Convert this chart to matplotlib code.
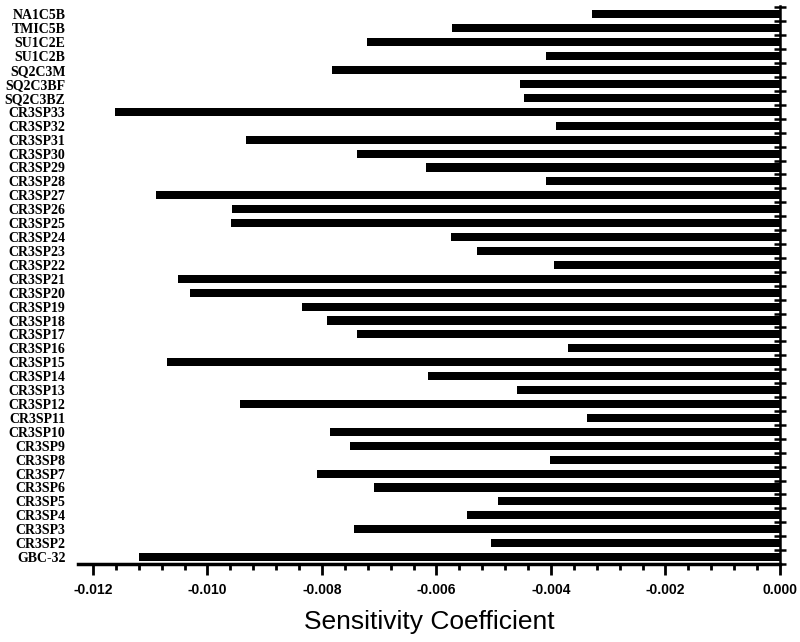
import matplotlib
matplotlib.use("Agg")
import matplotlib.pyplot as plt
from matplotlib.ticker import MultipleLocator, FormatStrFormatter

# categories from top to bottom
labels = ["NA1C5B", "TMIC5B", "SU1C2E", "SU1C2B", "SQ2C3M", "SQ2C3BF", "SQ2C3BZ",
          "CR3SP33", "CR3SP32", "CR3SP31", "CR3SP30", "CR3SP29", "CR3SP28",
          "CR3SP27", "CR3SP26", "CR3SP25", "CR3SP24", "CR3SP23", "CR3SP22",
          "CR3SP21", "CR3SP20", "CR3SP19", "CR3SP18", "CR3SP17", "CR3SP16",
          "CR3SP15", "CR3SP14", "CR3SP13", "CR3SP12", "CR3SP11", "CR3SP10",
          "CR3SP9", "CR3SP8", "CR3SP7", "CR3SP6", "CR3SP5", "CR3SP4",
          "CR3SP3", "CR3SP2", "GBC-32"]

sensitivity = [-0.00329, -0.00573, -0.00722, -0.00409, -0.00783, -0.00454, -0.00447,
               -0.01162, -0.00392, -0.00932, -0.00738, -0.00618, -0.00408,
               -0.01090, -0.00957, -0.00959, -0.00575, -0.00529, -0.00395,
               -0.01051, -0.01031, -0.00834, -0.00792, -0.00738, -0.00370,
               -0.01071, -0.00615, -0.00459, -0.00943, -0.00337, -0.00786,
               -0.00751, -0.00401, -0.00809, -0.00709, -0.00492, -0.00546,
               -0.00744, -0.00504, -0.01120]

fig = plt.figure(figsize=(8, 6.42), dpi=100)
ax = fig.add_axes([0.0975, 0.1215, 0.8775, 0.869])

pos = list(range(len(labels)))
ax.barh(pos, sensitivity, height=0.58, color="black")

ax.set_xlim(-0.01226, 0.0)
ax.set_ylim(len(labels) - 0.5, -0.6)

ax.spines["top"].set_visible(False)
ax.spines["left"].set_visible(False)
ax.spines["bottom"].set_linewidth(2.5)
ax.spines["right"].set_linewidth(1.8)

# x axis
ax.xaxis.set_major_locator(MultipleLocator(0.002))
ax.xaxis.set_minor_locator(MultipleLocator(0.0004))
ax.xaxis.set_major_formatter(FormatStrFormatter("%.3f"))
ax.tick_params(axis="x", which="major", direction="out", length=8, width=2, pad=6)
ax.tick_params(axis="x", which="minor", direction="out", length=4.5, width=2)
for t in ax.get_xticklabels():
    t.set_fontfamily("Liberation Sans")
    t.set_fontweight("bold")
    t.set_fontsize(10)

# y axis: labels on the left, cross ticks between bars on the right spine
ax.set_yticks(pos)
ax.set_yticklabels(labels, fontfamily="Liberation Serif", fontweight="bold", fontsize=10)
ax.set_yticks([p - 0.5 for p in pos] + [len(labels) - 0.5], minor=True)
ax.tick_params(axis="y", which="major", left=True, right=False, length=0, pad=9)
ax.tick_params(axis="y", which="minor", left=False, right=True,
               direction="inout", length=9, width=1.8)

ax.set_xlabel("Sensitivity Coefficient", fontfamily="Liberation Sans",
              fontsize=19, labelpad=9)

fig.savefig("out.png", dpi=100)
